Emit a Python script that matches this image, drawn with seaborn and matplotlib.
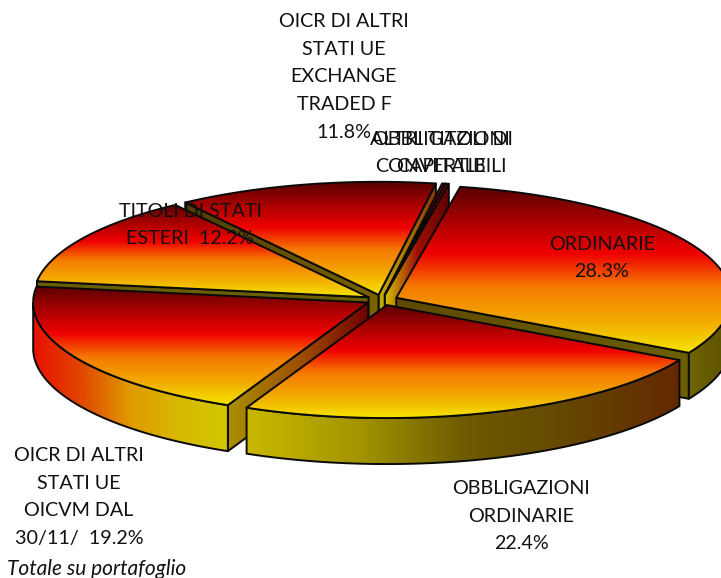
import numpy as np
import matplotlib
matplotlib.use('Agg')
import matplotlib.pyplot as plt
from matplotlib.patches import Polygon
import seaborn as sns

# values from the chart (the two small ones have no printed percentage)
labels = ['ORDINARIE', 'OBBLIGAZIONI\nORDINARIE', 'OICR DI ALTRI\nSTATI UE\nOICVM DAL\n30/11/',
          'TITOLI DI STATI\nESTERI', 'OICR DI ALTRI\nSTATI UE\nEXCHANGE\nTRADED F',
          'OBBLIGAZIONI\nCONVERTIBILI', 'ALTRI TITOLI DI\nCAPITALE']
values = [28.3, 22.4, 19.2, 12.2, 11.8, 0.15, 0.15]
note = 'Totale su portafoglio'

sns.set_theme(style='white')
plt.rcParams['font.family'] = ['Lato', 'DejaVu Sans']

# pie geometry in pixels
cx, cy = 382, 300
rx, ry = 335, 113
depth = 46
explode = 0.047
start = 79

top_cmap = sns.blend_palette(['#5a0000', '#a80000', '#f00000', '#f57a00', '#f2a800', '#f5e400'], n_colors=256, as_cmap=True)

rim_colors = {0: ['#6e6400', '#5c5000'],
              1: ['#c8b800', '#a59600', '#6e5c00', '#644600', '#642800'],
              2: ['#e81000', '#e04800', '#e09a00', '#d8b800', '#d0c800']}
lo_colors = {0: ['#5f4a00', '#6a5f00'],
             3: ['#4f4000', '#6a5f00'],
             4: ['#c8b000', '#8a3000'],
             5: ['#d0c000', '#a01000', '#600000'],
             6: ['#d0c000', '#a01000', '#600000']}
hi_colors = {2: ['#a89000', '#a05000', '#700000'],
             3: ['#6a5f00', '#6a5f00'],
             4: ['#4f3c00', '#7a6400']}

fig = plt.figure(figsize=(7.21, 5.78), dpi=100)
ax = fig.add_axes([0, 0, 1, 1])
ax.axis('off')

z = [1]


def grad_fill(verts, colors, vertical=False):
    verts = np.array(verts)
    if isinstance(colors, list):
        colors = sns.blend_palette(colors, n_colors=256, as_cmap=True)
    g = np.linspace(0, 1, 256)
    g = g[:, None] if vertical else g[None, :]
    x0, x1 = verts[:, 0].min(), verts[:, 0].max()
    y0, y1 = verts[:, 1].min(), verts[:, 1].max()
    im = ax.imshow(g, cmap=colors, vmin=0, vmax=1, aspect='auto', origin='upper',
                   extent=[x0, x1, y1, y0], zorder=z[0], interpolation='bilinear')
    poly = Polygon(verts, closed=True, fc='none', ec='#0a0a0a', lw=1.4, joinstyle='round', zorder=z[0] + 1)
    ax.add_patch(poly)
    im.set_clip_path(poly)
    z[0] += 2


def arc(a0, a1, ox, oy):
    t = np.radians(np.linspace(a0, a1, 120))
    return np.column_stack([ox + rx * np.cos(t), oy - ry * np.sin(t)])


def drop(pts):
    return np.array(pts) + [0, depth]


ends = start - np.cumsum(values) / np.sum(values) * 360
starts = np.r_[start, ends[:-1]]

# back slices first, the front ones paint over them
for i in [4, 5, 6, 3, 0, 2, 1]:
    hi, lo = starts[i], ends[i]
    mid = np.radians((hi + lo) / 2)
    ox = cx + explode * rx * np.cos(mid)
    oy = cy - explode * ry * np.sin(mid)
    apex = np.array([ox, oy])

    # radial walls
    if i in lo_colors and np.sin(np.radians(lo - 90)) < 0:
        e = np.array([apex, arc(lo, lo, ox, oy)[0]])
        grad_fill([e[0], e[1], drop(e)[1], drop(e)[0]], lo_colors[i])
    if i in hi_colors and np.sin(np.radians(hi + 90)) < 0:
        e = np.array([apex, arc(hi, hi, ox, oy)[0]])
        grad_fill([e[0], e[1], drop(e)[1], drop(e)[0]], hi_colors[i])

    # outer rim, only the part facing the viewer
    if i in rim_colors:
        a = np.linspace(hi, lo, 200)
        a = a[np.sin(np.radians(a)) < 0]
        t = np.radians(a)
        r = np.column_stack([ox + rx * np.cos(t), oy - ry * np.sin(t)])
        grad_fill(np.vstack([r, drop(r)[::-1]]), rim_colors[i])

    # top face
    grad_fill(np.vstack([apex, arc(hi, lo, ox, oy)]), top_cmap, vertical=True)

ax.set_xlim(0, 721)
ax.set_ylim(578, 0)

# label text, centre of each block in pixels
txt = dict(ha='center', va='center', fontsize=14.2, color='#111111', linespacing=1.78, zorder=z[0] + 1)
ax.text(602, 258, f'{labels[0]}\n{values[0]}%', **txt)
ax.text(521, 516, f'{labels[1]}\n{values[1]}%', **txt)
ax.text(79, 497, f'{labels[2]}  {values[2]}%', **txt)
ax.text(190, 225, f'{labels[3]}  {values[3]}%', **txt)
ax.text(344, 77, f'{labels[4]}\n{values[4]}%', **txt)
ax.text(441, 153, labels[5], **txt)
ax.text(441, 153, labels[6], **txt)
ax.text(7, 569, note, ha='left', va='center', fontsize=15, style='italic', color='#111111', zorder=z[0] + 1)

fig.savefig('out.png', dpi=100)
